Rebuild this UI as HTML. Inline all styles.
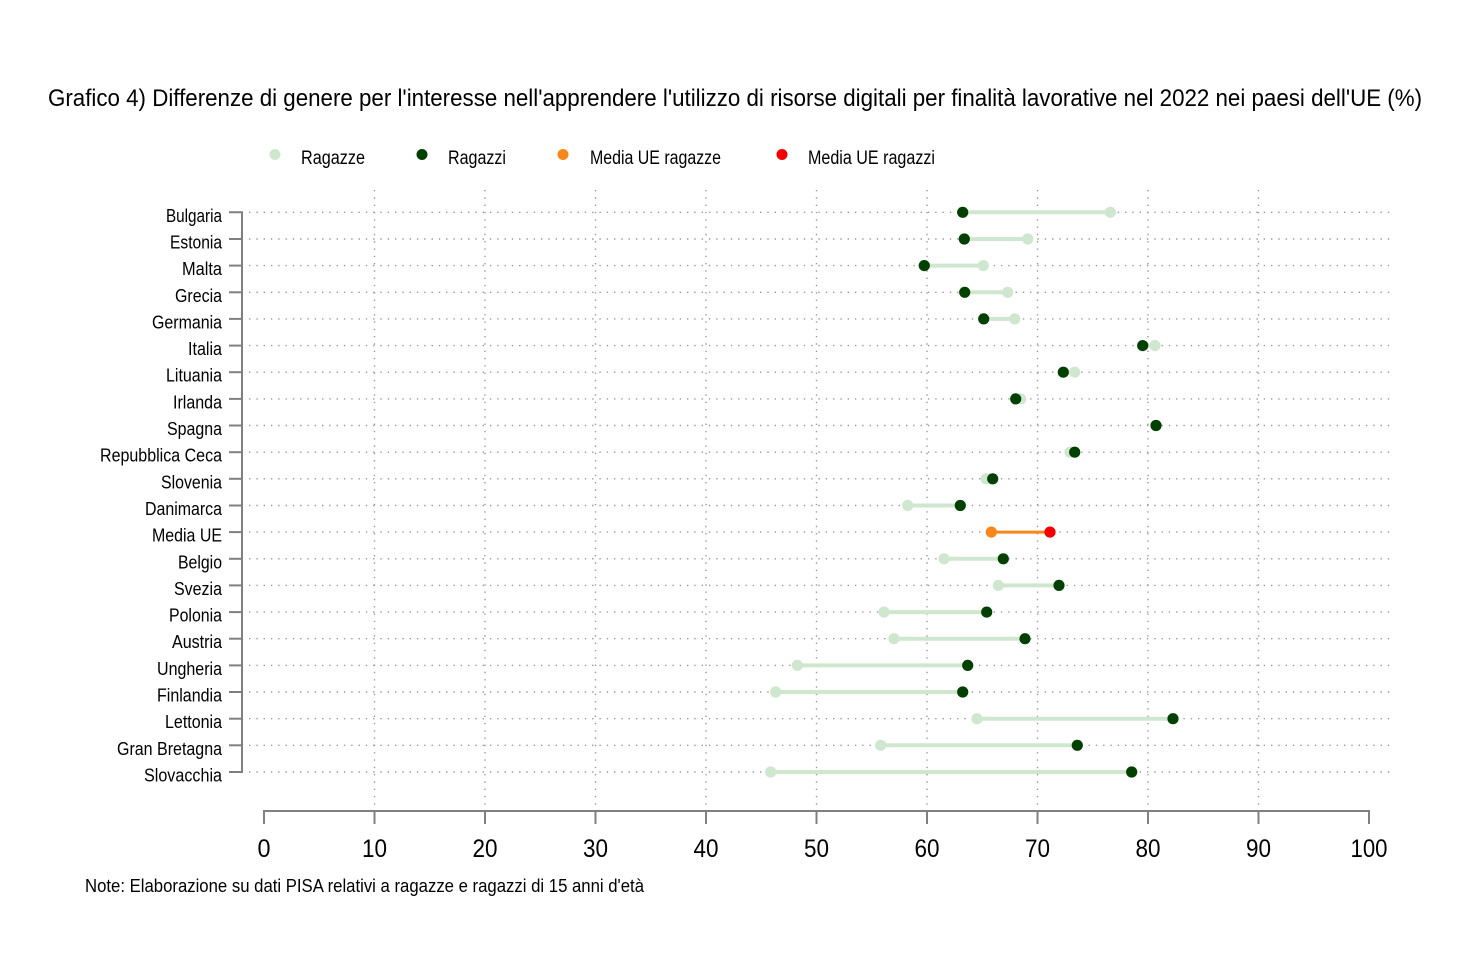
<!DOCTYPE html>
<html><head><meta charset="utf-8"><style>
html,body{margin:0;padding:0;background:#fff;}
svg{display:block;}
text{font-family:"Liberation Sans Narrow","Liberation Sans",sans-serif;fill:#000;}
</style></head><body>
<svg width="1470" height="980" viewBox="0 0 1470 980" xmlns="http://www.w3.org/2000/svg">
<rect width="1470" height="980" fill="#fff"/>
<text x="48" y="106" font-size="24" textLength="1374" lengthAdjust="spacingAndGlyphs">Grafico 4) Differenze di genere per l'interesse nell'apprendere l'utilizzo di risorse digitali per finalità lavorative nel 2022 nei paesi dell'UE (%)</text>

<!-- legend -->
<circle cx="275" cy="154.5" r="5.5" fill="#cfe7cf"/>
<text x="301" y="164" font-size="19" textLength="64" lengthAdjust="spacingAndGlyphs">Ragazze</text>
<circle cx="422" cy="154.5" r="5.5" fill="#024002"/>
<text x="448" y="164" font-size="19" textLength="58" lengthAdjust="spacingAndGlyphs">Ragazzi</text>
<circle cx="563" cy="154.5" r="5.5" fill="#f8861a"/>
<text x="590" y="164" font-size="19" textLength="131" lengthAdjust="spacingAndGlyphs">Media UE ragazze</text>
<circle cx="782" cy="154.5" r="5.5" fill="#f40000"/>
<text x="808" y="164" font-size="19" textLength="127" lengthAdjust="spacingAndGlyphs">Media UE ragazzi</text>

<!-- vertical grid -->
<g stroke="#9a9a9a" stroke-width="1.4" stroke-dasharray="1.4 5.9">
<line x1="374.5" y1="190" x2="374.5" y2="806"/>
<line x1="485" y1="190" x2="485" y2="806"/>
<line x1="595.5" y1="190" x2="595.5" y2="806"/>
<line x1="706" y1="190" x2="706" y2="806"/>
<line x1="816.5" y1="190" x2="816.5" y2="806"/>
<line x1="927" y1="190" x2="927" y2="806"/>
<line x1="1037.5" y1="190" x2="1037.5" y2="806"/>
<line x1="1148" y1="190" x2="1148" y2="806"/>
<line x1="1258.5" y1="190" x2="1258.5" y2="806"/>
</g>

<!-- axes -->
<g stroke="#808080" stroke-width="2" fill="none">
<path d="M229 212.3 H242 V772 H229"/>
<line x1="229" y1="239" x2="242" y2="239"/>
<line x1="229" y1="265.6" x2="242" y2="265.6"/>
<line x1="229" y1="292.3" x2="242" y2="292.3"/>
<line x1="229" y1="318.9" x2="242" y2="318.9"/>
<line x1="229" y1="345.6" x2="242" y2="345.6"/>
<line x1="229" y1="372.2" x2="242" y2="372.2"/>
<line x1="229" y1="398.9" x2="242" y2="398.9"/>
<line x1="229" y1="425.5" x2="242" y2="425.5"/>
<line x1="229" y1="452.2" x2="242" y2="452.2"/>
<line x1="229" y1="478.8" x2="242" y2="478.8"/>
<line x1="229" y1="505.5" x2="242" y2="505.5"/>
<line x1="229" y1="532.1" x2="242" y2="532.1"/>
<line x1="229" y1="558.8" x2="242" y2="558.8"/>
<line x1="229" y1="585.4" x2="242" y2="585.4"/>
<line x1="229" y1="612.1" x2="242" y2="612.1"/>
<line x1="229" y1="638.7" x2="242" y2="638.7"/>
<line x1="229" y1="665.4" x2="242" y2="665.4"/>
<line x1="229" y1="692" x2="242" y2="692"/>
<line x1="229" y1="718.7" x2="242" y2="718.7"/>
<line x1="229" y1="745.3" x2="242" y2="745.3"/>
<path d="M264 824 V811 H1369 V824"/>
<line x1="374.5" y1="811" x2="374.5" y2="824"/>
<line x1="485" y1="811" x2="485" y2="824"/>
<line x1="595.5" y1="811" x2="595.5" y2="824"/>
<line x1="706" y1="811" x2="706" y2="824"/>
<line x1="816.5" y1="811" x2="816.5" y2="824"/>
<line x1="927" y1="811" x2="927" y2="824"/>
<line x1="1037.5" y1="811" x2="1037.5" y2="824"/>
<line x1="1148" y1="811" x2="1148" y2="824"/>
<line x1="1258.5" y1="811" x2="1258.5" y2="824"/>
</g>

<!-- tick labels -->
<g font-size="25" text-anchor="middle">
<text x="264" y="857" textLength="13" lengthAdjust="spacingAndGlyphs">0</text>
<text x="374.5" y="857" textLength="25" lengthAdjust="spacingAndGlyphs">10</text>
<text x="485" y="857" textLength="25" lengthAdjust="spacingAndGlyphs">20</text>
<text x="595.5" y="857" textLength="25" lengthAdjust="spacingAndGlyphs">30</text>
<text x="706" y="857" textLength="25" lengthAdjust="spacingAndGlyphs">40</text>
<text x="816.5" y="857" textLength="25" lengthAdjust="spacingAndGlyphs">50</text>
<text x="927" y="857" textLength="25" lengthAdjust="spacingAndGlyphs">60</text>
<text x="1037.5" y="857" textLength="25" lengthAdjust="spacingAndGlyphs">70</text>
<text x="1148" y="857" textLength="25" lengthAdjust="spacingAndGlyphs">80</text>
<text x="1258.5" y="857" textLength="25" lengthAdjust="spacingAndGlyphs">90</text>
<text x="1369" y="857" textLength="37" lengthAdjust="spacingAndGlyphs">100</text>
</g>

<text x="85" y="892" font-size="18.5" textLength="559" lengthAdjust="spacingAndGlyphs">Note: Elaborazione su dati PISA relativi a ragazze e ragazzi di 15 anni d'età</text>

<!-- horizontal grid -->
<g stroke="#9a9a9a" stroke-width="1.4" stroke-dasharray="1.4 5.9">
<line x1="249" y1="212.3" x2="1390" y2="212.3"/>
<line x1="249" y1="239" x2="1390" y2="239"/>
<line x1="249" y1="265.6" x2="1390" y2="265.6"/>
<line x1="249" y1="292.3" x2="1390" y2="292.3"/>
<line x1="249" y1="318.9" x2="1390" y2="318.9"/>
<line x1="249" y1="345.6" x2="1390" y2="345.6"/>
<line x1="249" y1="372.2" x2="1390" y2="372.2"/>
<line x1="249" y1="398.9" x2="1390" y2="398.9"/>
<line x1="249" y1="425.5" x2="1390" y2="425.5"/>
<line x1="249" y1="452.2" x2="1390" y2="452.2"/>
<line x1="249" y1="478.8" x2="1390" y2="478.8"/>
<line x1="249" y1="505.5" x2="1390" y2="505.5"/>
<line x1="249" y1="532.1" x2="1390" y2="532.1"/>
<line x1="249" y1="558.8" x2="1390" y2="558.8"/>
<line x1="249" y1="585.4" x2="1390" y2="585.4"/>
<line x1="249" y1="612.1" x2="1390" y2="612.1"/>
<line x1="249" y1="638.7" x2="1390" y2="638.7"/>
<line x1="249" y1="665.4" x2="1390" y2="665.4"/>
<line x1="249" y1="692" x2="1390" y2="692"/>
<line x1="249" y1="718.7" x2="1390" y2="718.7"/>
<line x1="249" y1="745.3" x2="1390" y2="745.3"/>
<line x1="249" y1="772" x2="1390" y2="772"/>
</g>

<g font-size="18.5" text-anchor="end">
<text x="222" y="221.8" textLength="56" lengthAdjust="spacingAndGlyphs">Bulgaria</text>
<text x="222" y="248.5" textLength="52" lengthAdjust="spacingAndGlyphs">Estonia</text>
<text x="222" y="275.1" textLength="40" lengthAdjust="spacingAndGlyphs">Malta</text>
<text x="222" y="301.8" textLength="47" lengthAdjust="spacingAndGlyphs">Grecia</text>
<text x="222" y="328.4" textLength="70" lengthAdjust="spacingAndGlyphs">Germania</text>
<text x="222" y="355.1" textLength="34" lengthAdjust="spacingAndGlyphs">Italia</text>
<text x="222" y="381.7" textLength="56" lengthAdjust="spacingAndGlyphs">Lituania</text>
<text x="222" y="408.4" textLength="49" lengthAdjust="spacingAndGlyphs">Irlanda</text>
<text x="222" y="435" textLength="55" lengthAdjust="spacingAndGlyphs">Spagna</text>
<text x="222" y="461.7" textLength="122" lengthAdjust="spacingAndGlyphs">Repubblica Ceca</text>
<text x="222" y="488.3" textLength="61" lengthAdjust="spacingAndGlyphs">Slovenia</text>
<text x="222" y="515" textLength="77" lengthAdjust="spacingAndGlyphs">Danimarca</text>
<text x="222" y="541.6" textLength="70" lengthAdjust="spacingAndGlyphs">Media UE</text>
<text x="222" y="568.3" textLength="44" lengthAdjust="spacingAndGlyphs">Belgio</text>
<text x="222" y="594.9" textLength="48" lengthAdjust="spacingAndGlyphs">Svezia</text>
<text x="222" y="621.6" textLength="53" lengthAdjust="spacingAndGlyphs">Polonia</text>
<text x="222" y="648.2" textLength="50" lengthAdjust="spacingAndGlyphs">Austria</text>
<text x="222" y="674.9" textLength="65" lengthAdjust="spacingAndGlyphs">Ungheria</text>
<text x="222" y="701.5" textLength="65" lengthAdjust="spacingAndGlyphs">Finlandia</text>
<text x="222" y="728.2" textLength="57" lengthAdjust="spacingAndGlyphs">Lettonia</text>
<text x="222" y="754.8" textLength="105" lengthAdjust="spacingAndGlyphs">Gran Bretagna</text>
<text x="222" y="781.5" textLength="78" lengthAdjust="spacingAndGlyphs">Slovacchia</text>
</g>

<!-- connecting lines -->
<g stroke="#cfe7cf" stroke-width="4">
<line x1="962.7" y1="212.3" x2="1110.3" y2="212.3"/>
<line x1="964.3" y1="239" x2="1027.7" y2="239"/>
<line x1="924.3" y1="265.6" x2="983.3" y2="265.6"/>
<line x1="964.7" y1="292.3" x2="1007.7" y2="292.3"/>
<line x1="983.7" y1="318.9" x2="1014.7" y2="318.9"/>
<line x1="1142.7" y1="345.6" x2="1155" y2="345.6"/>
<line x1="1063.3" y1="372.2" x2="1074.7" y2="372.2"/>
<line x1="1015.7" y1="398.9" x2="1020.7" y2="398.9"/>
<line x1="1070" y1="452.2" x2="1074.7" y2="452.2"/>
<line x1="986" y1="478.8" x2="992.7" y2="478.8"/>
<line x1="907.7" y1="505.5" x2="960.3" y2="505.5"/>
<line x1="944" y1="558.8" x2="1003.3" y2="558.8"/>
<line x1="998.3" y1="585.4" x2="1059" y2="585.4"/>
<line x1="884" y1="612.1" x2="986.7" y2="612.1"/>
<line x1="894" y1="638.7" x2="1025" y2="638.7"/>
<line x1="797.3" y1="665.4" x2="967.7" y2="665.4"/>
<line x1="775.7" y1="692" x2="962.7" y2="692"/>
<line x1="977" y1="718.7" x2="1173" y2="718.7"/>
<line x1="880.7" y1="745.3" x2="1077.3" y2="745.3"/>
<line x1="770.7" y1="772" x2="1131.7" y2="772"/>
</g>
<line x1="991.3" y1="532.1" x2="1050" y2="532.1" stroke="#f8861a" stroke-width="3"/>

<!-- girls dots -->
<g fill="#cfe7cf">
<circle cx="1110.3" cy="212.3" r="5.6"/>
<circle cx="1027.7" cy="239" r="5.6"/>
<circle cx="983.3" cy="265.6" r="5.6"/>
<circle cx="1007.7" cy="292.3" r="5.6"/>
<circle cx="1014.7" cy="318.9" r="5.6"/>
<circle cx="1155" cy="345.6" r="5.6"/>
<circle cx="1074.7" cy="372.2" r="5.6"/>
<circle cx="1020.7" cy="398.9" r="5.6"/>
<circle cx="1156" cy="425.5" r="5.6"/>
<circle cx="1070" cy="452.2" r="5.6"/>
<circle cx="986" cy="478.8" r="5.6"/>
<circle cx="907.7" cy="505.5" r="5.6"/>
<circle cx="944" cy="558.8" r="5.6"/>
<circle cx="998.3" cy="585.4" r="5.6"/>
<circle cx="884" cy="612.1" r="5.6"/>
<circle cx="894" cy="638.7" r="5.6"/>
<circle cx="797.3" cy="665.4" r="5.6"/>
<circle cx="775.7" cy="692" r="5.6"/>
<circle cx="977" cy="718.7" r="5.6"/>
<circle cx="880.7" cy="745.3" r="5.6"/>
<circle cx="770.7" cy="772" r="5.6"/>
</g>
<circle cx="991.3" cy="532.1" r="5.6" fill="#f8861a"/>
<circle cx="1050" cy="532.1" r="5.6" fill="#f40000"/>

<!-- boys dots -->
<g fill="#024002">
<circle cx="962.7" cy="212.3" r="5.6"/>
<circle cx="964.3" cy="239" r="5.6"/>
<circle cx="924.3" cy="265.6" r="5.6"/>
<circle cx="964.7" cy="292.3" r="5.6"/>
<circle cx="983.7" cy="318.9" r="5.6"/>
<circle cx="1142.7" cy="345.6" r="5.6"/>
<circle cx="1063.3" cy="372.2" r="5.6"/>
<circle cx="1015.7" cy="398.9" r="5.6"/>
<circle cx="1156" cy="425.5" r="5.6"/>
<circle cx="1074.7" cy="452.2" r="5.6"/>
<circle cx="992.7" cy="478.8" r="5.6"/>
<circle cx="960.3" cy="505.5" r="5.6"/>
<circle cx="1003.3" cy="558.8" r="5.6"/>
<circle cx="1059" cy="585.4" r="5.6"/>
<circle cx="986.7" cy="612.1" r="5.6"/>
<circle cx="1025" cy="638.7" r="5.6"/>
<circle cx="967.7" cy="665.4" r="5.6"/>
<circle cx="962.7" cy="692" r="5.6"/>
<circle cx="1173" cy="718.7" r="5.6"/>
<circle cx="1077.3" cy="745.3" r="5.6"/>
<circle cx="1131.7" cy="772" r="5.6"/>
</g>
</svg>
</body></html>
